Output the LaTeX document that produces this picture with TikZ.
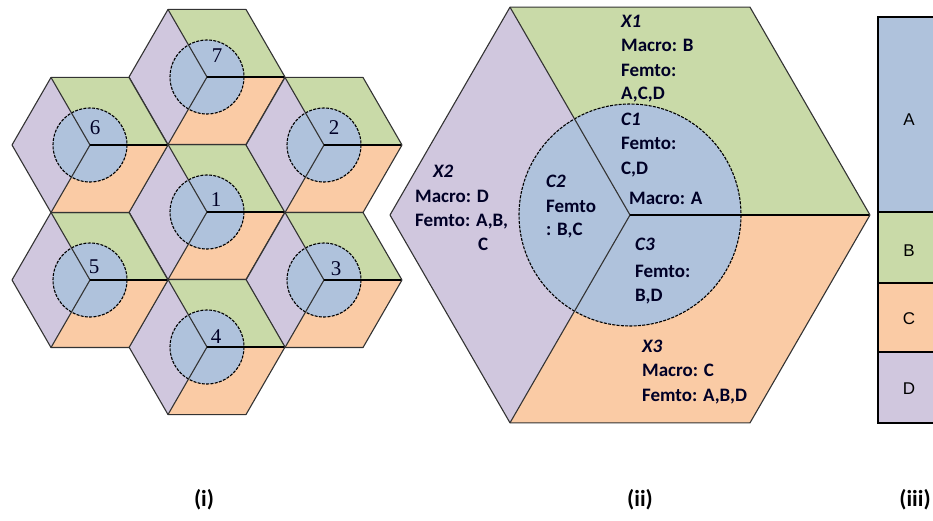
\documentclass[tikz,border=0pt]{standalone}
\usepackage{fontspec}
\newfontfamily\carlito{Carlito}
\newfontfamily\lsans{Liberation Sans}
\newfontfamily\lserif{Liberation Serif}
\usetikzlibrary{calc}

\definecolor{purp}{HTML}{D0C7DE}
\definecolor{grn}{HTML}{C9DAA8}
\definecolor{orng}{HTML}{FACBA5}
\definecolor{blu}{HTML}{AFC2DC}
\definecolor{edgegray}{HTML}{333333}

\tikzset{
  edge/.style={draw=edgegray, line width=1.1pt, line join=round},
  midline/.style={draw=black, line width=1.7pt},
  cellring/.style={fill=blu, draw=black, line width=1.1pt, dash pattern=on 3pt off 1.3pt},
  numlabel/.style={font=\lserif\fontsize{21}{21}\selectfont, anchor=base, inner sep=0pt, text=black!85!blue},
  celltext/.style={font=\carlito\bfseries\fontsize{19}{23}\selectfont, anchor=base west, inner sep=0pt, text=black!85!blue},
  celltitle/.style={celltext, font=\carlito\bfseries\itshape\fontsize{19}{23}\selectfont},
  legbox/.style={draw=black, line width=2pt},
  legtext/.style={font=\lsans\fontsize{17}{17}\selectfont, anchor=base, inner sep=0pt},
  caption/.style={font=\carlito\bfseries\fontsize{23}{23}\selectfont, anchor=base, inner sep=0pt},
}

% one hexagonal cell: centre (#1,#2), hexagon radius #3, inner circle radius #4
\newcommand\hexcell[4]{%
  \begin{scope}[shift={(#1,#2)}]
    \pgfmathsetmacro\hh{0.866*#3}%
    \pgfmathsetmacro\hr{0.5*#3}%
    \fill[purp] (-#3,0) -- (-\hr,-\hh) -- (0,0) -- (-\hr,\hh) -- cycle;
    \fill[grn] (-\hr,-\hh) -- (\hr,-\hh) -- (#3,0) -- (0,0) -- cycle;
    \fill[orng] (0,0) -- (#3,0) -- (\hr,\hh) -- (-\hr,\hh) -- cycle;
    \draw[cellring] (0,0) circle[radius=#4];
    \draw[edge] (-\hr,-\hh) -- (0,0) -- (-\hr,\hh);
    \draw[midline] (0,0) -- (#3,0);
    \draw[edge] (#3,0) -- (\hr,-\hh) -- (-\hr,-\hh) -- (-#3,0) -- (-\hr,\hh) -- (\hr,\hh) -- cycle;
  \end{scope}}

\begin{document}
\begin{tikzpicture}[x=1pt, y=-1pt]
  \useasboundingbox (0,0) rectangle (933,521);
  \clip (0,0) rectangle (933,521);

  % (ii) single cell, enlarged
  \hexcell{630}{215}{240}{111}

  % (i) seven-cell cluster
  \hexcell{207}{212}{78}{37}
  \hexcell{207}{77}{78}{37}
  \hexcell{324}{145}{78}{37}
  \hexcell{324}{280}{78}{37}
  \hexcell{207}{347}{78}{37}
  \hexcell{90}{280}{78}{37}
  \hexcell{90}{145}{78}{37}

  \node[numlabel] (n1) at (216,207) {1};
  \node[numlabel] (n7) at (217,63) {7};
  \node[numlabel] (n2) at (334,135) {2};
  \node[numlabel] (n3) at (336,275) {3};
  \node[numlabel] (n4) at (216,343) {4};
  \node[numlabel] (n5) at (94,273) {5};
  \node[numlabel] (n6) at (95,135) {6};

  % sector annotations
  \node[celltitle] (x1t) at (621,28) {X1};
  \node[celltext] (x1a) at (621,52) {Macro: B};
  \node[celltext] (x1b) at (621,77) {Femto:};
  \node[celltext] (x1c) at (621,100) {A,C,D};
  \node[celltitle] (c1t) at (621,126) {C1};
  \node[celltext] (c1a) at (621,150) {Femto:};
  \node[celltext] (c1b) at (621,175) {C,D};
  \node[celltext] (mA) at (629,205) {Macro: A};

  \node[celltitle] (x2t) at (433,178) {X2};
  \node[celltext] (x2a) at (415,203) {Macro: D};
  \node[celltext] (x2b) at (415,226) {Femto: A,B,};
  \node[celltext] (x2c) at (478,250) {C};

  \node[celltitle] (c2t) at (546,188) {C2};
  \node[celltext] (c2a) at (546,212) {Femto};
  \node[celltext] (c2b) at (546,236) {: B,C};

  \node[celltitle] (c3t) at (635,251) {C3};
  \node[celltext] (c3a) at (635,277) {Femto:};
  \node[celltext] (c3b) at (635,301) {B,D};

  \node[celltitle] (x3t) at (642,352) {X3};
  \node[celltext] (x3a) at (642,376) {Macro: C};
  \node[celltext] (x3b) at (642,401) {Femto: A,B,D};

  % (iii) band legend
  \fill[blu] (878,17) rectangle (960,212);
  \fill[grn] (878,212) rectangle (960,283);
  \fill[orng] (878,283) rectangle (960,352);
  \fill[purp] (878,352) rectangle (960,423);
  \draw[legbox] (878,212) -- (960,212) (878,283) -- (960,283) (878,352) -- (960,352);
  \draw[legbox] (960,17) -- (878,17) -- (878,423) -- (960,423);
  \node[legtext] (lA) at (909,126) {A};
  \node[legtext] (lB) at (909,256) {B};
  \node[legtext] (lC) at (909,324) {C};
  \node[legtext] (lD) at (909,394) {D};

  % captions
  \node[caption] (cap1) at (204,506) {(i)};
  \node[caption] (cap2) at (640,506) {(ii)};
  \node[caption] (cap3) at (915,506) {(iii)};
\end{tikzpicture}
\end{document}
